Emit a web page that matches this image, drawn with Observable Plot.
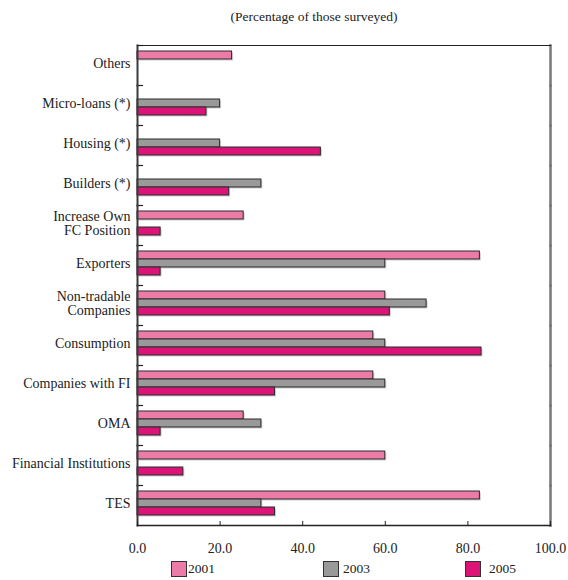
<!DOCTYPE html>
<html>
<head>
<meta charset="utf-8">
<script src="https://cdn.jsdelivr.net/npm/d3@7"></script>
<script src="https://cdn.jsdelivr.net/npm/@observablehq/plot@0.6"></script>
<style>
  html, body { margin: 0; padding: 0; background: #fff; }
  #wrap { position: relative; width: 568px; height: 580px; font-family: "Liberation Serif", "DejaVu Serif", serif; color: #222; }
  #title { position: absolute; top: 0; left: 0; width: 628px; height: 33px; line-height: 33px; text-align: center; font-size: 13.5px; }
  #chart { position: absolute; top: 30px; left: 0; }
  #legend { position: absolute; top: 560px; left: 0; width: 568px; height: 20px; }
  .sw { position: absolute; top: 1px; width: 14px; height: 14px; border: 1px solid #333; box-sizing: content-box; }
  .lt { position: absolute; top: 0px; font-size: 13.5px; line-height: 17px; }
</style>
</head>
<body>
<div id="wrap">
  <div id="title">(Percentage of those surveyed)</div>
  <div id="chart"></div>
  <div id="legend"></div>
</div>
<script>
const categories = ["Others", "Micro-loans (*)", "Housing (*)", "Builders (*)", "Increase Own\nFC Position", "Exporters", "Non-tradable\nCompanies", "Consumption", "Companies with FI", "OMA", "Financial Institutions", "TES"];
const years = ["2001", "2003", "2005"];
const values2001 = [22.9, null, null, null, 25.7, 82.9, 60.0, 57.1, 57.1, 25.7, 60.0, 82.9];
const values2003 = [null, 20.0, 20.0, 30.0, null, 60.0, 70.0, 60.0, 60.0, 30.0, null, 30.0];
const values2005 = [null, 16.7, 44.4, 22.2, 5.6, 5.6, 61.1, 83.3, 33.3, 5.6, 11.1, 33.3];
const xTicks = [0, 20, 40, 60, 80, 100];
const colors = ["#ec7ba8", "#999999", "#dc1478"];

const series = [values2001, values2003, values2005];
const data = [];
categories.forEach((c, i) => {
  years.forEach((y, j) => {
    const v = series[j][i];
    if (v != null) data.push({category: c, year: y, value: v});
  });
});

const chart = Plot.plot({
  width: 568,
  height: 530,
  marginLeft: 137,
  marginRight: 18,
  marginTop: 14,
  marginBottom: 35,
  style: {fontFamily: "'Liberation Serif', serif", fontSize: "14px", color: "#222", background: "#fff"},
  x: {domain: [0, 100]},
  y: {domain: years, axis: null, paddingInner: 0, paddingOuter: 0.73, align: 0.38},
  fy: {domain: categories, padding: 0},
  color: {domain: years, range: colors},
  marks: [
    Plot.barX(data, {x: "value", y: "year", fy: "category", fill: "#cfcfcf", dx: 1.5, dy: 1.5}),
    Plot.barX(data, {x: "value", y: "year", fy: "category", fill: "year", stroke: "#2a2a2a", strokeWidth: 1}),
    Plot.frame({anchor: "top", insetRight: 408, stroke: "#222", strokeWidth: 1.2}),
    Plot.frame({anchor: "left", stroke: "#3a3a3a", strokeWidth: 2}),
    Plot.frame({anchor: "right", stroke: "#777", strokeWidth: 2.5}),
    Plot.frame({anchor: "top", facetAnchor: "top", stroke: "#222", strokeWidth: 1.2}),
    Plot.frame({anchor: "bottom", facetAnchor: "bottom", stroke: "#222", strokeWidth: 1.5}),
    Plot.axisFy({anchor: "left", tickSize: 0, tickPadding: 7, label: null, dy: -2, fontSize: 14}),
    Plot.axisX({anchor: "bottom", ticks: xTicks, tickSize: -4, tickPadding: 22, tickFormat: d => d.toFixed(1), label: null, stroke: "#222", fontSize: 14})
  ]
});
document.getElementById("chart").appendChild(chart);

const legendSwatchLeft = [170.5, 322.5, 465];
const legendTextLeft = [188, 343, 489];
const legend = document.getElementById("legend");
years.forEach((y, i) => {
  const sw = document.createElement("div");
  sw.className = "sw";
  sw.style.left = legendSwatchLeft[i] + "px";
  sw.style.background = colors[i];
  legend.appendChild(sw);
  const t = document.createElement("div");
  t.className = "lt";
  t.style.left = legendTextLeft[i] + "px";
  t.textContent = y;
  legend.appendChild(t);
});
</script>
</body>
</html>
